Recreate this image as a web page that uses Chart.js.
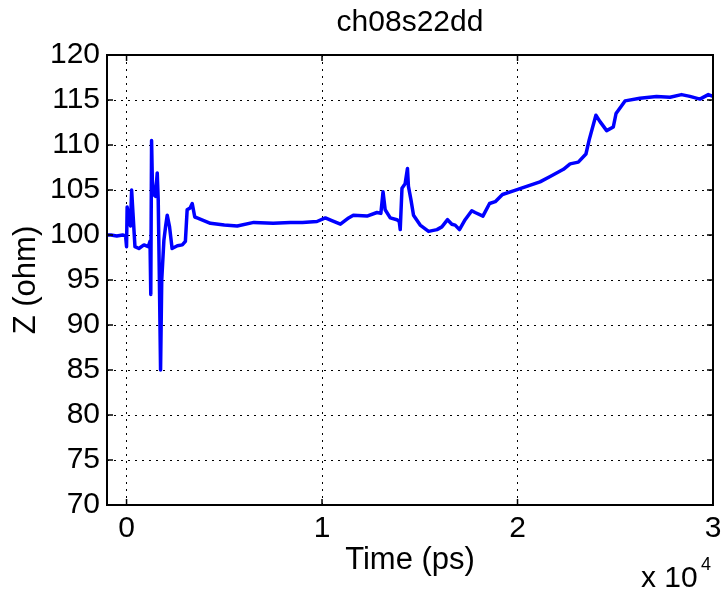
<!DOCTYPE html>
<html><head><meta charset="utf-8">
<script src="https://cdn.jsdelivr.net/npm/chart.js@4/dist/chart.umd.min.js"></script>
<style>html,body{margin:0;padding:0;background:#fff;overflow:hidden;}canvas{display:block;}</style>
</head><body>
<canvas id="c" width="721" height="591"></canvas>
<script>
const titleText = 'ch08s22dd';
const xAxisLabel = 'Time (ps)';
const yAxisLabel = 'Z (ohm)';
const xExponent = '4';
const timePs = [-1000,-800,-500,-200,-50,0,30,120,200,260,330,430,630,890,1110,1200,1240,1280,1320,1380,1480,1570,1620,1680,1740,1800,1910,2000,2080,2200,2330,2600,2850,3010,3100,3250,3360,3490,3610,4290,5000,5660,6510,7500,8380,9000,9740,10170,10500,10940,11360,11600,12300,12810,13010,13120,13230,13490,13830,13950,14000,14090,14250,14370,14420,14550,14680,15020,15450,15880,16130,16420,16640,16810,17030,17320,17660,17830,18230,18570,18860,19230,19790,20470,21150,21670,22350,22690,23110,23500,23670,24010,24220,24560,24900,25040,25500,26260,27110,27800,28390,28820,29330,29760,30000];
const zOhm = [100.0,100.0,99.9,100.0,99.9,98.7,103.1,102.0,101.0,105.0,102.4,98.7,98.5,98.9,98.7,99.3,93.4,110.5,106.0,104.5,104.3,106.9,103.9,95.0,85.0,95.0,99.4,101.0,102.2,100.9,98.5,98.8,98.9,99.3,102.8,103.0,103.5,102.0,101.9,101.3,101.1,101.0,101.4,101.3,101.4,101.4,101.5,101.9,101.6,101.2,101.9,102.2,102.1,102.5,102.4,104.8,102.8,101.9,101.7,101.5,100.6,105.2,105.7,107.4,105.4,103.9,102.2,101.1,100.4,100.6,100.9,101.7,101.2,101.1,100.6,101.7,102.7,102.5,102.1,103.5,103.7,104.5,104.9,105.4,105.9,106.5,107.3,107.9,108.1,109.0,110.6,113.3,112.6,111.6,112.0,113.5,114.9,115.2,115.4,115.3,115.6,115.4,115.1,115.6,115.4];
const xTicks = [0,10000,20000,30000];
const xTickLabels = ['0','1','2','3'];
const yTicks = [70,75,80,85,90,95,100,105,110,115,120];

const FONT = '"Liberation Sans", Arial, Helvetica, sans-serif';

const framePlugin = {
  id: 'frame',
  afterDraw(chart) {
    const {ctx, chartArea: a, scales: {x, y}} = chart;
    ctx.save();
    ctx.strokeStyle = '#000';
    ctx.lineWidth = 2;
    ctx.strokeRect(a.left, a.top, a.right - a.left, a.bottom - a.top);
    ctx.lineWidth = 1.5;
    ctx.beginPath();
    y.ticks.forEach(t => {
      const p = y.getPixelForValue(t.value);
      ctx.moveTo(a.left, p); ctx.lineTo(a.left + 6, p);
      ctx.moveTo(a.right, p); ctx.lineTo(a.right - 6, p);
    });
    x.ticks.forEach(t => {
      const p = x.getPixelForValue(t.value);
      ctx.moveTo(p, a.bottom); ctx.lineTo(p, a.bottom - 6);
      ctx.moveTo(p, a.top); ctx.lineTo(p, a.top + 6);
    });
    ctx.stroke();
    ctx.fillStyle = '#000';
    ctx.textAlign = 'left';
    ctx.textBaseline = 'alphabetic';
    ctx.font = '30px ' + FONT;
    ctx.fillText('x 10', a.right - 72, chart.height - 4);
    ctx.font = '18px ' + FONT;
    ctx.fillText(xExponent, a.right - 12, chart.height - 21);
    ctx.restore();
  }
};

const tickFont = {family: FONT, size: 30, weight: 'normal'};
const labelFont = {family: FONT, size: 31, weight: 'normal'};

new Chart(document.getElementById('c'), {
  type: 'line',
  data: {
    datasets: [{
      data: timePs.map((t, i) => ({x: t, y: zOhm[i]})),
      borderColor: '#0000ff',
      borderWidth: 3.5,
      borderJoinStyle: 'round',
      borderCapStyle: 'round',
      pointRadius: 0,
      tension: 0,
      fill: false
    }]
  },
  options: {
    responsive: false,
    animation: false,
    devicePixelRatio: 1,
    layout: {padding: {left: 0, right: 8, top: 0, bottom: 0}},
    plugins: {
      legend: {display: false},
      tooltip: {enabled: false},
      title: {
        display: true, text: titleText, fullSize: false, color: '#000',
        font: {family: FONT, size: 30, weight: 'normal'},
        padding: {top: 4.5, bottom: 14.5}
      }
    },
    scales: {
      x: {
        type: 'linear', min: -1000, max: 30000,
        afterBuildTicks: s => { s.ticks = xTicks.map(v => ({value: v})); },
        afterFit: s => { s.height = 86; s.paddingLeft = 0; s.paddingRight = 0; },
        ticks: {
          color: '#000', font: tickFont, padding: 6, maxRotation: 0, autoSkip: false,
          callback: v => { const i = xTicks.indexOf(v); return i >= 0 ? xTickLabels[i] : ''; }
        },
        grid: {color: '#000', lineWidth: 1, drawTicks: false},
        border: {display: false, dash: [2, 5]},
        title: {display: true, text: xAxisLabel, color: '#000', font: labelFont, padding: {top: 0, bottom: 12}}
      },
      y: {
        type: 'linear', min: 70, max: 120,
        afterBuildTicks: s => { s.ticks = yTicks.map(v => ({value: v})); },
        afterFit: s => { s.width = 107; s.paddingTop = 0; s.paddingBottom = 0; },
        ticks: {color: '#000', font: tickFont, padding: 7, autoSkip: false},
        grid: {color: '#000', lineWidth: 1, drawTicks: false},
        border: {display: false, dash: [2, 5]},
        title: {display: true, text: yAxisLabel, color: '#000', font: labelFont, padding: {top: 8, bottom: 0}}
      }
    }
  },
  plugins: [framePlugin]
});
</script>
</body></html>
